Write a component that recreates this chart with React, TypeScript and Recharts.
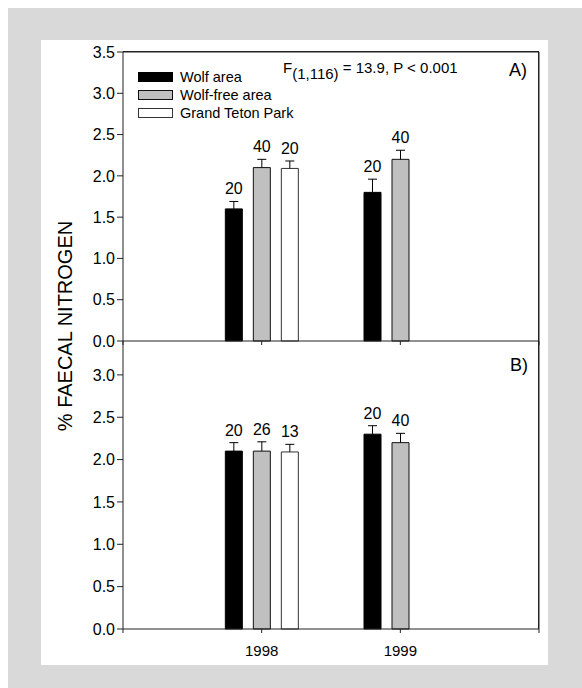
import React from 'react';
import {
  ComposedChart,
  Bar,
  XAxis,
  YAxis,
  LabelList,
  ReferenceLine,
} from 'recharts';

// years on the x axis
const years = [1998, 1999];

// panel A) means, SE and sample sizes
const wolfA = [1.6, 1.8];
const wolfErrA = [0.09, 0.16];
const wolfNA = [20, 20];
const freeA = [2.1, 2.2];
const freeErrA = [0.1, 0.11];
const freeNA = [40, 40];
const gtpA = [2.09, null];
const gtpErrA = [0.09, null];
const gtpNA = [20, null];

// panel B)
const wolfB = [2.1, 2.3];
const wolfErrB = [0.1, 0.1];
const wolfNB = [20, 20];
const freeB = [2.1, 2.2];
const freeErrB = [0.11, 0.11];
const freeNB = [26, 40];
const gtpB = [2.09, null];
const gtpErrB = [0.09, null];
const gtpNB = [13, null];

const ticksA = [0, 0.5, 1, 1.5, 2, 2.5, 3, 3.5];
const ticksB = [0, 0.5, 1, 1.5, 2, 2.5, 3];
const xTicks = [1997, 1998, 1999, 2000];

const FONT = '"Liberation Sans", Arial, Helvetica, sans-serif';

const makeRows = (w, we, wn, f, fe, fn, g, ge, gn) =>
  years.map((year, i) => ({
    year,
    wolf: w[i], wolfErr: we[i], wolfN: wn[i],
    free: f[i], freeErr: fe[i], freeN: fn[i],
    gtp: g[i], gtpErr: ge[i], gtpN: gn[i],
  }));

const dataA = makeRows(wolfA, wolfErrA, wolfNA, freeA, freeErrA, freeNA, gtpA, gtpErrA, gtpNA);
const dataB = makeRows(wolfB, wolfErrB, wolfNB, freeB, freeErrB, freeNB, gtpB, gtpErrB, gtpNB);

// upward whisker drawn on a transparent stacked segment
const Whisker = (props: any) => {
  const { x, y, width, height } = props;
  if (x == null || y == null || !height) return <g />;
  const cx = x + width / 2;
  return (
    <g>
      <line x1={cx} y1={y + height} x2={cx} y2={y} stroke="#000" strokeWidth={1} />
      <line x1={cx - 4.5} y1={y} x2={cx + 4.5} y2={y} stroke="#000" strokeWidth={1} />
    </g>
  );
};

const series = [
  { key: 'wolf', fill: '#000000', stroke: '#000000' },
  { key: 'free', fill: '#c0c0c0', stroke: '#111111' },
  { key: 'gtp', fill: '#ffffff', stroke: '#333333' },
];

const Panel = ({ data, ticks, domain, showYears, marginTop, height }: any) => (
  <ComposedChart
    width={582}
    height={height}
    data={data}
    margin={{ top: marginTop, right: 43, left: 63, bottom: 0 }}
    barSize={17}
    barGap={11}
  >
    <XAxis
      dataKey="year"
      type="number"
      domain={[1997, 2000]}
      ticks={xTicks}
      tickCount={4}
      height={showYears ? 41 : 19}
      stroke="#222"
      tickSize={4}
      tickMargin={12}
      tick={{ fill: '#000', fontSize: 15 }}
      tickFormatter={(v) => (showYears && (v === 1998 || v === 1999) ? String(v) : '')}
    />
    <YAxis
      type="number"
      domain={domain}
      ticks={ticks}
      width={60}
      stroke="#222"
      tickSize={6}
      tick={{ fill: '#000', fontSize: 16 }}
      tickFormatter={(v) => v.toFixed(1)}
    />
    {/* frame: top edge on panel A, right edge on both */}
    {!showYears && <ReferenceLine y={domain[1]} stroke="#222" ifOverflow="visible" />}
    <ReferenceLine x={2000} stroke="#222" ifOverflow="visible" />
    {series.map((s) => (
      <Bar
        key={s.key}
        dataKey={s.key}
        stackId={s.key}
        fill={s.fill}
        stroke={s.stroke}
        strokeWidth={1}
        isAnimationActive={false}
      />
    ))}
    {series.map((s) => (
      <Bar
        key={s.key + 'Err'}
        dataKey={s.key + 'Err'}
        stackId={s.key}
        fill="none"
        shape={<Whisker />}
        isAnimationActive={false}
      >
        <LabelList
          dataKey={s.key + 'N'}
          position="top"
          offset={7}
          fill="#000"
          fontSize={16}
          formatter={(v) => (v == null ? '' : v)}
        />
      </Bar>
    ))}
  </ComposedChart>
);

export default function App() {
  return (
    <div style={{ position: 'absolute', left: 0, top: 0, width: 582, height: 688, fontFamily: FONT }}>
      <div style={{ position: 'absolute', left: 8, top: 8, width: 574, height: 680, background: '#d9d9d9' }} />
      <div style={{ position: 'absolute', left: 41, top: 40, width: 507, height: 625, background: '#ffffff' }} />
      {/* plot frame (top and right edges) */}
      <div
        style={{
          position: 'absolute',
          left: 123,
          top: 51,
          width: 416,
          height: 578,
          borderTop: '1px solid #222',
          borderRight: '1px solid #222',
          boxSizing: 'border-box',
        }}
      />
      <div style={{ position: 'absolute', left: 0, top: 0 }}>
        <Panel data={dataA} ticks={ticksA} domain={[0, 3.5]} showYears={false} marginTop={52} height={360} />
      </div>
      <div style={{ position: 'absolute', left: 0, top: 300 }}>
        <Panel data={dataB} ticks={ticksB} domain={[0, 3.4]} showYears={true} marginTop={41} height={370} />
      </div>
      <svg
        width={582}
        height={688}
        style={{ position: 'absolute', left: 0, top: 0, pointerEvents: 'none', fontFamily: FONT }}
      >
        <text
          x={72}
          y={326}
          fontSize={20}
          textAnchor="middle"
          transform="rotate(-90 72 326)"
          fill="#000"
        >
          % FAECAL NITROGEN
        </text>
        <rect x={138.5} y={72.5} width={34} height={9} fill="#000" stroke="#000" />
        <rect x={138.5} y={90.5} width={34} height={9} fill="#c0c0c0" stroke="#111" />
        <rect x={138.5} y={108.5} width={34} height={9} fill="#fff" stroke="#333" />
        <text x={180} y={82} fontSize={14.5} fill="#000">Wolf area</text>
        <text x={180} y={100} fontSize={14.5} fill="#000">Wolf-free area</text>
        <text x={180} y={118} fontSize={14.5} fill="#000">Grand Teton Park</text>
        <text x={283} y={73} fontSize={15} fill="#000">
          F<tspan dy={6}>(1,116)</tspan>
          <tspan dy={-6}> = 13.9, P &lt; 0.001</tspan>
        </text>
        <text x={509} y={76} fontSize={18} fill="#000">A)</text>
        <text x={510} y={371} fontSize={18} fill="#000">B)</text>
      </svg>
    </div>
  );
}
